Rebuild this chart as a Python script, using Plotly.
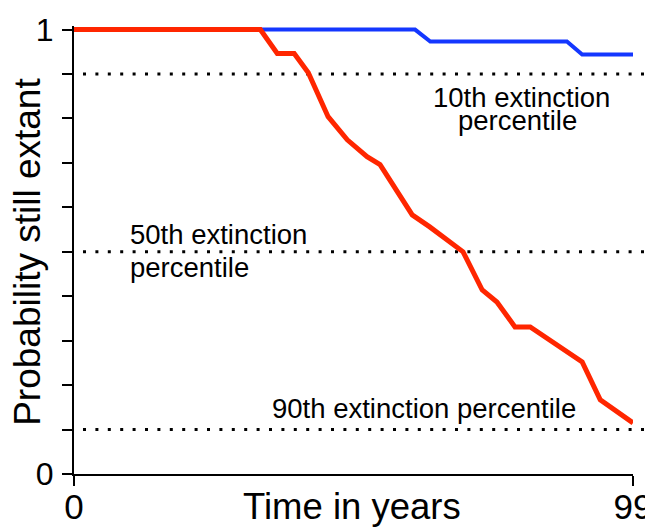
import plotly.graph_objects as go

# Data
red_years = [0, 33, 36, 39, 41.5, 45, 48.4, 51.9, 54.2, 59.9, 63, 66.1, 68.9, 72.3, 74.9, 78.1, 80.8, 90, 93.2, 99]
red_prob = [1.0, 1.0, 0.946, 0.946, 0.903, 0.804, 0.752, 0.714, 0.696, 0.583, 0.556, 0.527, 0.5, 0.414, 0.387, 0.331, 0.331, 0.252, 0.167, 0.115]

blue_years = [0, 60.4, 63.1, 87.3, 90, 99]
blue_prob = [1.0, 1.0, 0.973, 0.973, 0.944, 0.944]

percentile_levels = [0.9, 0.5, 0.1]

x_tickvals = [0, 99]
x_ticktext = ["0", "99"]
y_tickvals = [i / 10 for i in range(11)]
y_ticktext = ["0"] + [""] * 9 + ["1"]

FONT = "Liberation Sans, Arial, Helvetica, sans-serif"

fig = go.Figure()
fig.add_trace(go.Scatter(x=blue_years, y=blue_prob, mode="lines",
                         line=dict(color="rgb(20,55,255)", width=4), showlegend=False))
fig.add_trace(go.Scatter(x=red_years, y=red_prob, mode="lines",
                         line=dict(color="rgb(255,38,0)", width=5), showlegend=False))

for lv in percentile_levels:
    fig.add_shape(type="line", xref="paper", yref="y", x0=0.0161, x1=1.05, y0=lv, y1=lv,
                  line=dict(color="black", width=3, dash="3px,9.4px"), layer="below")

ann_font = dict(family=FONT, size=27.5, color="black")
annotations = [
    dict(text="10th extinction", x=79.3, y=0.848, xanchor="center", yanchor="middle"),
    dict(text="percentile", x=78.6, y=0.795, xanchor="center", yanchor="middle"),
    dict(text="50th extinction", x=9.6, y=0.54, xanchor="left", yanchor="middle"),
    dict(text="percentile", x=9.6, y=0.464, xanchor="left", yanchor="middle"),
    dict(text="90th extinction percentile", x=34.7, y=0.148, xanchor="left", yanchor="middle"),
]
for a in annotations:
    fig.add_annotation(xref="x", yref="y", showarrow=False, font=ann_font, **a)

# axis titles
fig.add_annotation(text="Time in years", xref="paper", yref="paper", x=0.497, y=-0.072,
                   xanchor="center", yanchor="middle", showarrow=False,
                   font=dict(family=FONT, size=36.5, color="black"))
fig.add_annotation(text="Probability still extant", xref="paper", yref="paper", x=-0.083, y=0.495,
                   xanchor="center", yanchor="middle", textangle=-90, showarrow=False,
                   font=dict(family=FONT, size=37, color="black"))

# page body has an 8px default margin, so the figure is sized to fit the window
fig.update_layout(
    width=645, height=519,
    margin=dict(l=66, r=20, t=18, b=53, autoexpand=False),
    paper_bgcolor="white", plot_bgcolor="white",
    font=dict(family=FONT, color="black"),
)
fig.update_xaxes(range=[0, 99], showgrid=False, zeroline=False, showline=True, automargin=False,
                 linecolor="black", linewidth=2, ticks="outside", ticklen=10, tickwidth=2,
                 tickcolor="black", tickvals=x_tickvals, ticktext=x_ticktext,
                 ticklabelstandoff=-9,
                 tickfont=dict(family=FONT, size=35, color="black"))
fig.update_yaxes(range=[0, 1.008], showgrid=False, zeroline=False, showline=True, automargin=False,
                 linecolor="black", linewidth=2, ticks="outside", ticklen=10, tickwidth=2,
                 tickcolor="black", tickvals=y_tickvals, ticktext=y_ticktext,
                 ticklabelstandoff=2,
                 tickfont=dict(family=FONT, size=32, color="black"))

fig.write_html("out.html")
